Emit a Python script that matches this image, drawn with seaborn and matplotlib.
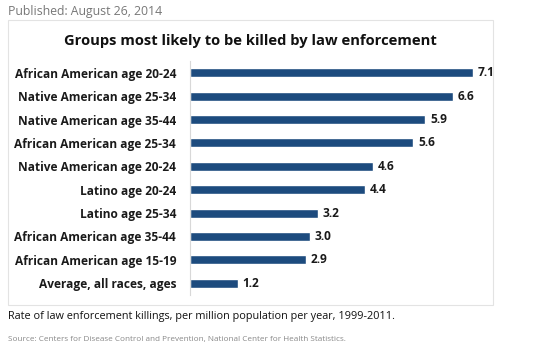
"""
Groups most likely to be killed by law enforcement -- horizontal bar chart.
"""
import matplotlib.pyplot as plt
import pandas as pd
import seaborn as sns
from matplotlib.patches import Rectangle

groups = [
    "African American age 20-24",
    "Native American age 25-34",
    "Native American age 35-44",
    "African American age 25-34",
    "Native American age 20-24",
    "Latino age 20-24",
    "Latino age 25-34",
    "African American age 35-44",
    "African American age 15-19",
    "Average, all races, ages",
]
rates = [7.1, 6.6, 5.9, 5.6, 4.6, 4.4, 3.2, 3.0, 2.9, 1.2]

BAR = "#1d4b7e"
W, H = 550, 353

sns.set_theme(style="white")
plt.rcParams["font.family"] = ["Open Sans", "DejaVu Sans"]

df = pd.DataFrame({"group": groups, "rate": rates})

fig = plt.figure(figsize=(W / 100, H / 100), dpi=100)

# chart box frame
fig.patches.append(Rectangle((8 / W, 1 - 305 / H), 485 / W, 285 / H,
                             transform=fig.transFigure, fill=False,
                             edgecolor="#e3e3e3", lw=0.8))

ax = fig.add_axes([190 / W, 1 - 295 / H, 303 / W, 234 / H])
sns.barplot(data=df, y="group", x="rate", orient="h", color=BAR,
            width=0.38, saturation=1, ax=ax)
ax.set_xlim(0, 7.1 * 303 / 283)
ax.set_ylim(9.5, -0.5)
ax.set_xlabel(""); ax.set_ylabel("")
ax.set_xticks([])
for s in ("top", "right", "bottom"):
    ax.spines[s].set_visible(False)
ax.spines["left"].set_color("#d8d8d8")
ax.spines["left"].set_linewidth(0.8)
ax.tick_params(axis="y", length=0, pad=10, labelsize=8.6)
for t in ax.get_yticklabels():
    t.set_fontweight("bold")
    t.set_color("#1a1a1a")

for i, v in enumerate(rates):
    ax.text(v + 0.12, i, f"{v:.1f}", va="center", ha="left",
            fontsize=8.6, fontweight="bold", color="#1a1a1a")

fig.text(8 / W, 1 - 12 / H, "Published: August 26, 2014", fontsize=8.8,
         color="#777777", va="center", ha="left")
fig.text(250 / W, 1 - 41 / H, "Groups most likely to be killed by law enforcement",
         fontsize=10.6, fontweight="bold", color="#111111", va="center", ha="center")
fig.text(8 / W, 1 - 316 / H,
         "Rate of law enforcement killings, per million population per year, 1999-2011.",
         fontsize=7.8, color="#111111", va="center", ha="left")
fig.text(8 / W, 1 - 339 / H,
         "Source: Centers for Disease Control and Prevention, National Center for Health Statistics.",
         fontsize=5.9, color="#888888", va="center", ha="left")

fig.savefig("out.png", dpi=100)
